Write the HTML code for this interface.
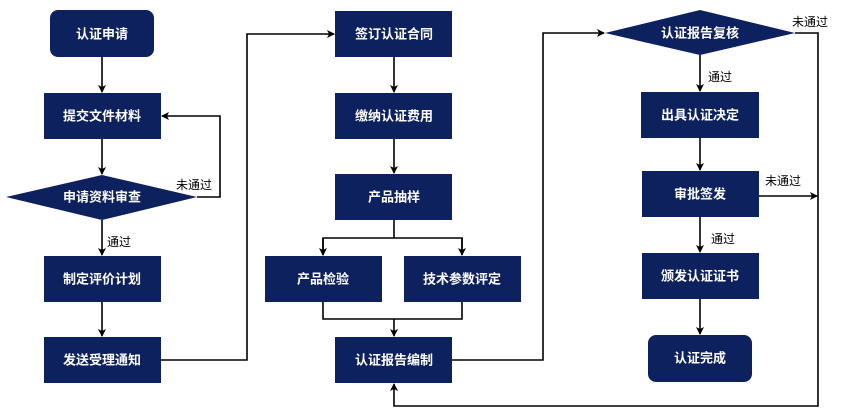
<!DOCTYPE html>
<html><head><meta charset="utf-8"><style>
body{margin:0;background:#fff;}
svg{display:block;}
.b{fill:#0d215e;}
.t{fill:#fff;font-family:"Liberation Sans","Noto Sans CJK SC",sans-serif;font-size:13px;font-weight:bold;text-anchor:middle;dominant-baseline:central;}
.l{fill:#000;font-family:"Liberation Sans","Noto Sans CJK SC",sans-serif;font-size:12px;}
.c{stroke:#000;stroke-width:1.6;fill:none;}
</style></head><body>
<svg width="861" height="412" viewBox="0 0 861 412" xmlns="http://www.w3.org/2000/svg">
<defs><marker id="a" markerWidth="8" markerHeight="8" refX="7" refY="4" orient="auto" markerUnits="userSpaceOnUse"><path d="M0,0 L8,4 L0,8 L2,4 z" fill="#000"/></marker></defs>
<!-- connectors -->
<path class="c" d="M102,57 V92" marker-end="url(#a)"/>
<path class="c" d="M102,139 V174" marker-end="url(#a)"/>
<path class="c" d="M197,197 H220 V116 H162" marker-end="url(#a)"/>
<path class="c" d="M102,220 V255" marker-end="url(#a)"/>
<path class="c" d="M102,302 V336" marker-end="url(#a)"/>
<path class="c" d="M161,360 H247 V34 H334" marker-end="url(#a)"/>
<path class="c" d="M394,57 V92" marker-end="url(#a)"/>
<path class="c" d="M394,139 V173" marker-end="url(#a)"/>
<path class="c" d="M394,220 V238 M323,255 V238 H462 V255"/>
<path class="c" d="M323,238 V255" marker-end="url(#a)"/>
<path class="c" d="M462,238 V255" marker-end="url(#a)"/>
<path class="c" d="M323,302 V319 H462 V302 M394,319 V336" marker-end="url(#a)"/>
<path class="c" d="M452,360 H543 V33 H604" marker-end="url(#a)"/>
<path class="c" d="M795,33 H818 V406 H394 V384" marker-end="url(#a)"/>
<path class="c" d="M700,55 V91" marker-end="url(#a)"/>
<path class="c" d="M700,138 V170" marker-end="url(#a)"/>
<path class="c" d="M759,196 H817" marker-end="url(#a)"/>
<path class="c" d="M700,217 V252" marker-end="url(#a)"/>
<path class="c" d="M700,299 V334" marker-end="url(#a)"/>
<!-- nodes -->
<rect class="b" x="50" y="10" width="104" height="47" rx="8"/><text class="t" x="102" y="34">认证申请</text>
<rect class="b" x="44" y="93" width="117" height="46"/><text class="t" x="102" y="116">提交文件材料</text>
<polygon class="b" points="6,197 102,175 197,197 102,220"/><text class="t" x="102" y="197">申请资料审查</text>
<rect class="b" x="44" y="256" width="117" height="46"/><text class="t" x="102" y="279">制定评价计划</text>
<rect class="b" x="44" y="337" width="117" height="46"/><text class="t" x="102" y="360">发送受理通知</text>
<rect class="b" x="335" y="11" width="117" height="46"/><text class="t" x="394" y="34">签订认证合同</text>
<rect class="b" x="335" y="93" width="117" height="46"/><text class="t" x="394" y="116">缴纳认证费用</text>
<rect class="b" x="335" y="174" width="117" height="46"/><text class="t" x="394" y="197">产品抽样</text>
<rect class="b" x="265" y="256" width="117" height="46"/><text class="t" x="323" y="279">产品检验</text>
<rect class="b" x="404" y="256" width="117" height="46"/><text class="t" x="462" y="279">技术参数评定</text>
<rect class="b" x="335" y="337" width="117" height="46"/><text class="t" x="394" y="360">认证报告编制</text>
<polygon class="b" points="605,33 700,10 795,33 700,55"/><text class="t" x="700" y="33">认证报告复核</text>
<rect class="b" x="641" y="92" width="118" height="46"/><text class="t" x="700" y="115">出具认证决定</text>
<rect class="b" x="642" y="171" width="117" height="46"/><text class="t" x="700" y="194">审批签发</text>
<rect class="b" x="642" y="253" width="117" height="46"/><text class="t" x="700" y="276">颁发认证证书</text>
<rect class="b" x="648" y="335" width="104" height="47" rx="8"/><text class="t" x="700" y="358">认证完成</text>
<!-- labels -->
<text class="l" x="176" y="189">未通过</text>
<text class="l" x="107" y="246">通过</text>
<text class="l" x="792" y="26">未通过</text>
<text class="l" x="708" y="81">通过</text>
<text class="l" x="765" y="185">未通过</text>
<text class="l" x="711" y="243">通过</text>
</svg>
</body></html>
